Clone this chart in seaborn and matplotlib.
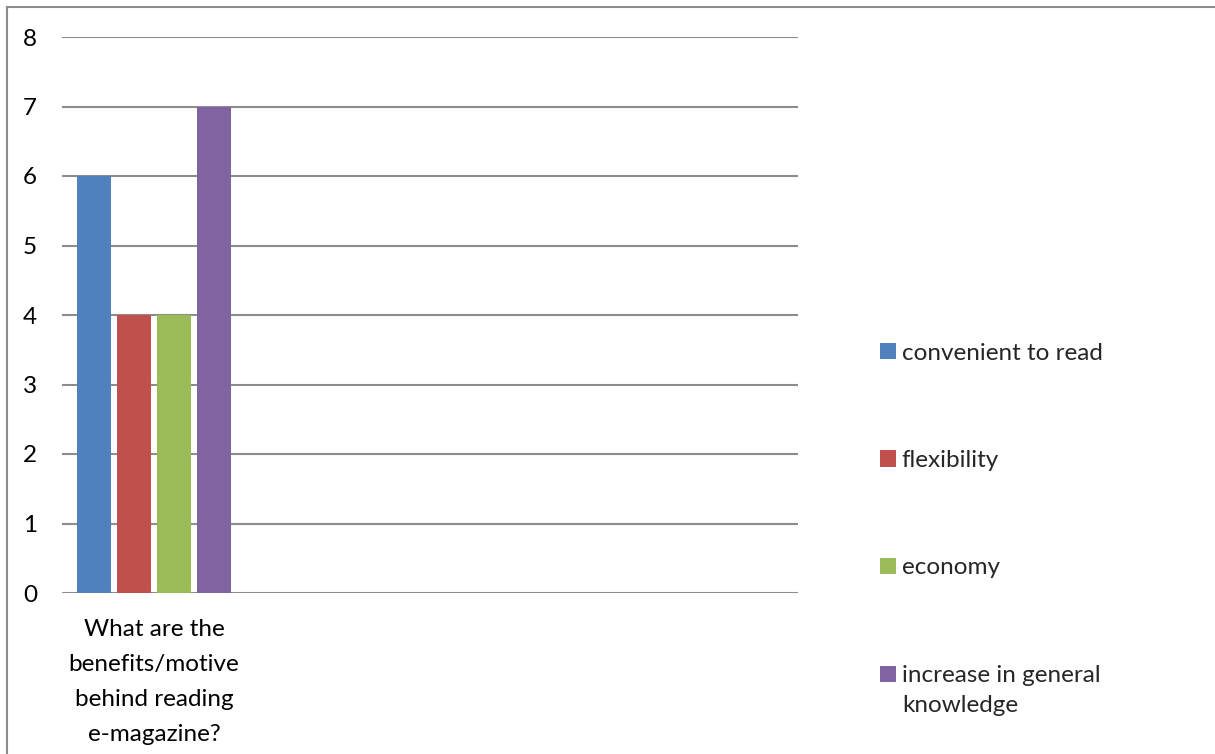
import matplotlib
matplotlib.use("Agg")
import matplotlib.pyplot as plt
from matplotlib.patches import Patch, Rectangle
from matplotlib.legend_handler import HandlerPatch
import seaborn as sns
import pandas as pd

question = "What are the\nbenefits/motive\nbehind reading\ne-magazine?"
motives = ["convenient to read", "flexibility", "economy",
           "increase in general\nknowledge"]
counts = [6, 4, 4, 7]
colors = ["#4F81BD", "#C0504D", "#9BBB59", "#8064A2"]
y_ticks = [0, 1, 2, 3, 4, 5, 6, 7, 8]

sns.set_theme(style="white")
plt.rcParams["font.family"] = ["Lato", "DejaVu Sans"]
FS = 17.5

df = pd.DataFrame({"question": [question] * len(motives),
                   "motive": motives, "count": counts})

W, H = 1215, 754
fig = plt.figure(figsize=(W / 100, H / 100), dpi=100)
ax = fig.add_axes([62 / W, 1 - 593 / H, (798 - 62) / W, (593 - 37) / H])

sns.barplot(data=df, x="question", y="count", hue="motive",
            palette=colors, width=0.865, gap=0.145, ax=ax,
            saturation=1, legend=False, linewidth=0, edgecolor="none")

ax.set_xlim(-0.5, 3.5)
ax.set_ylim(0, 8)
ax.set_yticks(y_ticks)
ax.set_yticklabels([str(v) for v in y_ticks], fontsize=FS, color="black")
ax.set_xticks([0])
ax.set_xticklabels([question], fontsize=FS, color="black", linespacing=1.82)
ax.tick_params(axis="both", length=0)
ax.tick_params(axis="y", pad=18)
ax.tick_params(axis="x", pad=18.5)
ax.set_xlabel("")
ax.set_ylabel("")
for s in ax.spines.values():
    s.set_visible(False)
ax.yaxis.grid(True, color="#8C8C8C", linewidth=1.5)
ax.set_axisbelow(True)


def first_line_box(shift):
    # legend key aligned with the first line of a two-line label
    def make(legend, orig_handle, xdescent, ydescent, width, height, fontsize):
        return Rectangle((-xdescent, -ydescent + shift), width, height)
    return HandlerPatch(patch_func=make)


handles = [Patch(facecolor=c, edgecolor="none") for c in colors]
leg = fig.legend(handles, motives, loc="upper left",
                 bbox_to_anchor=(870 / W, 1 - 333 / H),
                 frameon=False, fontsize=FS, handlelength=0.66,
                 handleheight=0.66, handletextpad=0.25, labelspacing=3.55,
                 borderaxespad=0,
                 handler_map={handles[3]: first_line_box(11.5)})
leg.get_texts()[3].set_linespacing(1.55)

# outer chart border
fig.patches.append(Rectangle((7 / W, -0.1), 1.2, 1 - 7 / H + 0.1,
                             transform=fig.transFigure, fill=False,
                             edgecolor="#8C8C8C", linewidth=1.5))

fig.savefig("out.png", dpi=100, facecolor="white")
